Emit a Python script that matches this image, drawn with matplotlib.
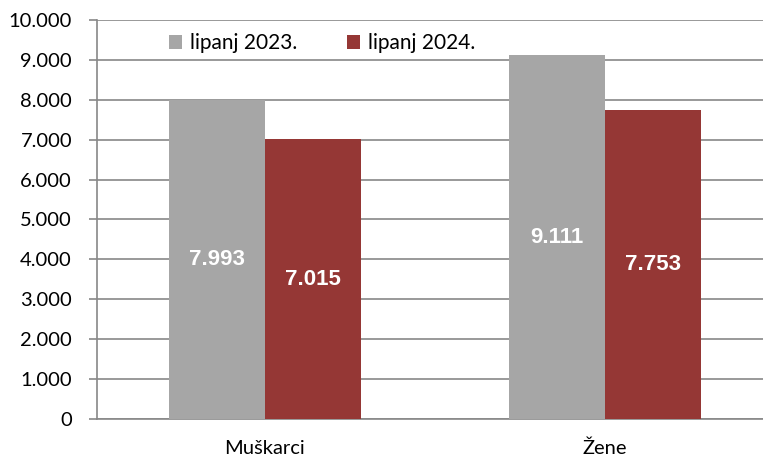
import matplotlib
matplotlib.use("Agg")
import matplotlib.pyplot as plt
import numpy as np

categories = ["Muškarci", "Žene"]
series_names = ["lipanj 2023.", "lipanj 2024."]
values_2023 = [7993, 9111]
values_2024 = [7015, 7753]
value_labels_2023 = ["7.993", "9.111"]
value_labels_2024 = ["7.015", "7.753"]
yticks = [0, 1000, 2000, 3000, 4000, 5000, 6000, 7000, 8000, 9000, 10000]
ytick_labels = ["0", "1.000", "2.000", "3.000", "4.000", "5.000", "6.000", "7.000", "8.000", "9.000", "10.000"]

colors = ["#A6A6A6", "#953735"]
font = "Lato"

W, H = 763, 457
fig = plt.figure(figsize=(W/100, H/100), dpi=100)
ax = fig.add_axes([97/W, (H-419)/H, (W-97)/W, (419-20)/H])

x = np.arange(len(categories))
bw = 0.283
b1 = ax.bar(x - bw/2, values_2023, bw, color=colors[0], label=series_names[0], zorder=3)
b2 = ax.bar(x + bw/2, values_2024, bw, color=colors[1], label=series_names[1], zorder=3)

for bars, labs in ((b1, value_labels_2023), (b2, value_labels_2024)):
    for rect, lab in zip(bars, labs):
        ax.text(rect.get_x() + rect.get_width()/2, rect.get_height()/2, lab,
                ha="center", va="center", color="white", fontsize=16,
                fontweight="bold", family="Liberation Sans", zorder=4)

ax.set_xlim(-168/340, 1 + 158/340)
ax.set_ylim(0, 10000)
ax.set_yticks(yticks)
ax.set_yticklabels(ytick_labels, family=font, fontsize=14.5)
ax.set_xticks(x)
ax.set_xticklabels(categories, family=font, fontsize=14.5)
ax.tick_params(axis="x", length=0, pad=15)
ax.tick_params(axis="y", length=6, color="#888888", pad=12, width=1.2)
ax.grid(axis="y", color="#888888", linewidth=1.2, zorder=0)
for s in ["top", "right"]:
    ax.spines[s].set_visible(False)
ax.spines["left"].set_color("#888888")
ax.spines["left"].set_linewidth(1.2)
ax.spines["bottom"].set_color("#888888")
ax.spines["bottom"].set_linewidth(1.2)

leg = ax.legend(loc="upper left", bbox_to_anchor=(64/(W-97), 1 - 5/399), ncol=2, frameon=False,
                prop={"family": font, "size": 15}, handlelength=0.6, handleheight=0.6,
                handletextpad=0.4, columnspacing=2.4, borderaxespad=0)

fig.savefig("out.png", dpi=100)
